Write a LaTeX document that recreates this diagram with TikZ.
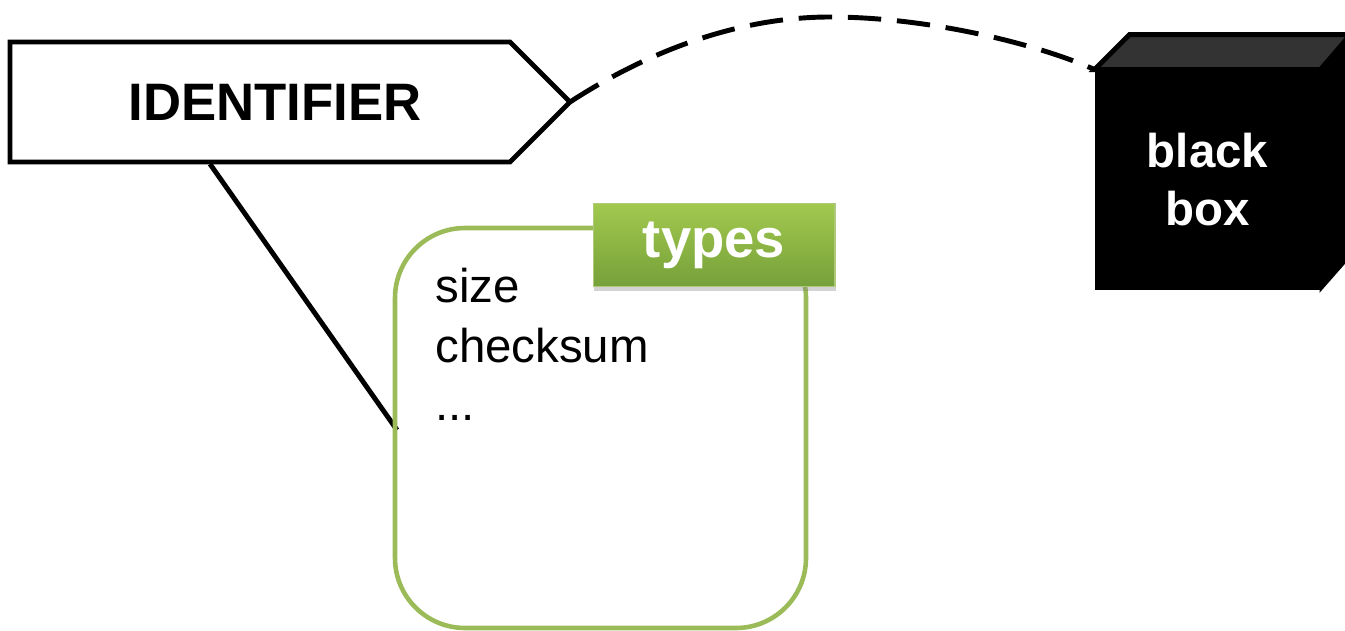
\documentclass[tikz,border=0pt]{standalone}
\usepackage{fontspec}
\setmainfont{Liberation Sans}
\usetikzlibrary{shadows}
\definecolor{boxgreen}{HTML}{9BBB59}
\definecolor{tabtop}{HTML}{A2C94E}
\definecolor{tabbot}{HTML}{76A03A}
\definecolor{cubetop}{HTML}{333333}
\tikzset{
  thickline/.style={line width=2.8pt},
  bigbold/.style={font=\bfseries\fontsize{30}{36}\selectfont},
  bodytext/.style={font=\fontsize{27}{33}\selectfont, anchor=base west, inner sep=0pt},
}
\begin{document}
\begin{tikzpicture}[x=0.02cm,y=-0.02cm, line join=miter]
\useasboundingbox (0,0) rectangle (1345,631);
% identifier
\coordinate (iNW) at (10,42);
\coordinate (iNE) at (510,42);
\coordinate (tip) at (570,102);
\coordinate (iSE) at (510,162);
\coordinate (iSW) at (10,162);
\coordinate (foot) at (210,164);
\coordinate (boxleft) at (397,430);
\draw[thickline] (foot) -- (boxleft);
\draw[thickline, fill=white] (iNW) -- (iNE) -- (tip) -- (iSE) -- (iSW) -- cycle;
\node[bigbold] (ident) at (275,102) {IDENTIFIER};
% green box
\draw[boxgreen, line width=2.6pt, rounded corners=1.4cm] (395,228) rectangle (806,628);
\node[bodytext] (p1) at (435,303) {size};
\node[bodytext] (p2) at (435,362) {checksum};
\node[bodytext] (p3) at (435,420) {...};
% tab
\node[draw=boxgreen!80!white, line width=0.6pt, top color=tabtop, bottom color=tabbot,
      drop shadow={shadow xshift=0.5pt, shadow yshift=-2.5pt, opacity=0.35},
      minimum width=4.84cm, minimum height=1.66cm, text=white,
      font=\bfseries\fontsize{31}{36}\selectfont] (types) at (714,245) {types};
% cube
\node[fill=black, draw=black, thickline, minimum width=4.42cm, minimum height=4.32cm,
      text=white, align=center, font=\bfseries\fontsize{27}{33}\selectfont] (bbox) at (1207.5,180) {black\\box};
% dashed connector
\draw[thickline, dash pattern=on 19pt off 9pt] (tip) .. controls (650,50) and (740,17) .. (830,17)
   .. controls (930,17) and (1040,45) .. (bbox.north west);
\draw[black, fill=black, line width=1pt] (bbox.north east) -- ++(35,-35) -- ++(0,216) -- (bbox.south east) -- cycle;
\draw[thickline, fill=cubetop] (bbox.north west) -- ++(35,-35) -- ++(221,0) -- (bbox.north east) -- cycle;
\end{tikzpicture}
\end{document}
